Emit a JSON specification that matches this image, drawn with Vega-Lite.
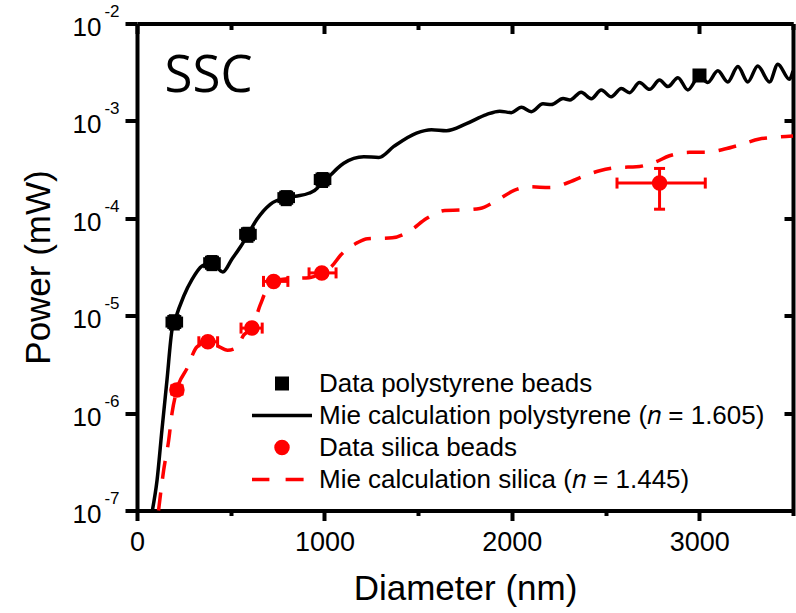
{
  "$schema": "https://vega.github.io/schema/vega-lite/v6.json",
  "width": 656,
  "height": 487,
  "autosize": {"type": "none"},
  "padding": {"left": 137, "top": 23.5, "right": 3.5, "bottom": 102.5},
  "background": "white",
  "config": {"view": {"stroke": null}, "axis": {"grid": false, "domainColor": "black", "tickColor": "black", "labelColor": "black", "titleColor": "black"}},
  "datasets": {
    "curveP": [
      {"d": 82, "p": 1e-7}, {"d": 107, "p": 2.042e-7}, {"d": 133, "p": 6.68e-7}, {"d": 160, "p": 2.188e-6},
      {"d": 187, "p": 7.18e-6}, {"d": 200, "p": 8.71e-6}, {"d": 249, "p": 1.585e-5}, {"d": 293, "p": 2.344e-5},
      {"d": 347, "p": 3.236e-5}, {"d": 400, "p": 3.49e-5}, {"d": 458, "p": 2.818e-5}, {"d": 506, "p": 3.8e-5},
      {"d": 553, "p": 5.13e-5}, {"d": 592, "p": 6.84e-5}, {"d": 640, "p": 9.77e-5}, {"d": 711, "p": 1.393e-4},
      {"d": 796, "p": 1.633e-4}, {"d": 856, "p": 1.694e-4}, {"d": 916, "p": 1.807e-4}, {"d": 962, "p": 2.042e-4},
      {"d": 990, "p": 2.512e-4}, {"d": 1030, "p": 2.754e-4}, {"d": 1069, "p": 3.26e-4}, {"d": 1103, "p": 3.673e-4},
      {"d": 1210, "p": 4.285e-4}, {"d": 1290, "p": 4.217e-4}, {"d": 1370, "p": 5.47e-4}, {"d": 1491, "p": 7.5e-4},
      {"d": 1571, "p": 8.13e-4}, {"d": 1651, "p": 7.94e-4}, {"d": 1758, "p": 9.38e-4}, {"d": 1864, "p": 1.161e-3},
      {"d": 1935, "p": 1.259e-3}, {"d": 1997, "p": 1.216e-3}, {"d": 2051, "p": 1.38e-3}, {"d": 2104, "p": 1.245e-3},
      {"d": 2166, "p": 1.496e-3}, {"d": 2210, "p": 1.472e-3}, {"d": 2273, "p": 1.698e-3}, {"d": 2310, "p": 1.641e-3},
      {"d": 2370, "p": 1.972e-3}, {"d": 2424, "p": 1.69e-3}, {"d": 2477, "p": 2.075e-3}, {"d": 2530, "p": 1.77e-3},
      {"d": 2584, "p": 2.148e-3}, {"d": 2628, "p": 1.95e-3}, {"d": 2681, "p": 2.472e-3}, {"d": 2735, "p": 2.109e-3},
      {"d": 2788, "p": 2.63e-3}, {"d": 2833, "p": 2.249e-3}, {"d": 2886, "p": 2.78e-3}, {"d": 2939, "p": 2.08e-3},
      {"d": 3001, "p": 2.884e-3}, {"d": 3045, "p": 2.483e-3}, {"d": 3099, "p": 3.273e-3}, {"d": 3152, "p": 2.512e-3},
      {"d": 3206, "p": 3.614e-3}, {"d": 3259, "p": 2.512e-3}, {"d": 3312, "p": 3.664e-3}, {"d": 3375, "p": 2.512e-3},
      {"d": 3419, "p": 3.819e-3}, {"d": 3481, "p": 2.673e-3}, {"d": 3500, "p": 3.258e-3}
    ],
    "curveS": [
      {"d": 115, "p": 1e-7}, {"d": 142, "p": 2.57e-7}, {"d": 169, "p": 5.248e-7}, {"d": 187, "p": 1e-6},
      {"d": 213, "p": 1.738e-6}, {"d": 267, "p": 2.884e-6}, {"d": 320, "p": 4.786e-6}, {"d": 382, "p": 5.433e-6},
      {"d": 430, "p": 4.898e-6}, {"d": 483, "p": 4.416e-6}, {"d": 530, "p": 4.677e-6}, {"d": 569, "p": 6.31e-6},
      {"d": 613, "p": 7.464e-6}, {"d": 658, "p": 1.297e-5}, {"d": 700, "p": 1.995e-5}, {"d": 729, "p": 2.259e-5},
      {"d": 811, "p": 2.399e-5}, {"d": 918, "p": 2.455e-5}, {"d": 986, "p": 2.754e-5}, {"d": 1040, "p": 3.236e-5},
      {"d": 1087, "p": 4.198e-5}, {"d": 1176, "p": 5.623e-5}, {"d": 1230, "p": 6.166e-5}, {"d": 1362, "p": 6.31e-5},
      {"d": 1455, "p": 7.413e-5}, {"d": 1544, "p": 9.93e-5}, {"d": 1642, "p": 1.202e-4}, {"d": 1731, "p": 1.216e-4},
      {"d": 1829, "p": 1.259e-4}, {"d": 1917, "p": 1.514e-4}, {"d": 2015, "p": 1.945e-4}, {"d": 2095, "p": 2.104e-4},
      {"d": 2202, "p": 2.07e-4}, {"d": 2291, "p": 2.291e-4}, {"d": 2388, "p": 2.729e-4}, {"d": 2468, "p": 3.076e-4},
      {"d": 2575, "p": 3.334e-4}, {"d": 2664, "p": 3.373e-4}, {"d": 2761, "p": 3.75e-4}, {"d": 2841, "p": 4.385e-4},
      {"d": 2948, "p": 4.753e-4}, {"d": 3028, "p": 4.753e-4}, {"d": 3135, "p": 5.14e-4}, {"d": 3215, "p": 5.662e-4},
      {"d": 3321, "p": 6.516e-4}, {"d": 3401, "p": 6.792e-4}, {"d": 3500, "p": 6.998e-4}
    ],
    "pts": [
      {"series": "Data polystyrene beads", "d": 199, "p": 8.6e-6, "dlo": 160, "dhi": 238, "plo": 7.3e-6, "phi": 1.0e-5},
      {"series": "Data polystyrene beads", "d": 400, "p": 3.5e-5, "dlo": 361, "dhi": 439, "plo": 2.97e-5, "phi": 4.05e-5},
      {"series": "Data polystyrene beads", "d": 592, "p": 6.85e-5, "dlo": 553, "dhi": 631, "plo": 5.8e-5, "phi": 7.9e-5},
      {"series": "Data polystyrene beads", "d": 796, "p": 1.63e-4, "dlo": 757, "dhi": 835, "plo": 1.38e-4, "phi": 1.88e-4},
      {"series": "Data polystyrene beads", "d": 990, "p": 2.5e-4, "dlo": 951, "dhi": 1029, "plo": 2.12e-4, "phi": 2.88e-4},
      {"series": "Data polystyrene beads", "d": 3001, "p": 2.92e-3, "dlo": 2975, "dhi": 3027, "plo": 2.7e-3, "phi": 3.15e-3},
      {"series": "Data silica beads", "d": 213, "p": 1.73e-6, "dlo": 185, "dhi": 241, "plo": 1.55e-6, "phi": 1.93e-6},
      {"series": "Data silica beads", "d": 378, "p": 5.4e-6, "dlo": 330, "dhi": 430, "plo": 4.95e-6, "phi": 5.9e-6},
      {"series": "Data silica beads", "d": 613, "p": 7.46e-6, "dlo": 555, "dhi": 668, "plo": 6.9e-6, "phi": 8.1e-6},
      {"series": "Data silica beads", "d": 729, "p": 2.25e-5, "dlo": 675, "dhi": 805, "plo": 2.07e-5, "phi": 2.45e-5},
      {"series": "Data silica beads", "d": 986, "p": 2.75e-5, "dlo": 918, "dhi": 1062, "plo": 2.55e-5, "phi": 2.97e-5},
      {"series": "Data silica beads", "d": 2788, "p": 2.3e-4, "dlo": 2561, "dhi": 3032, "plo": 1.24e-4, "phi": 3.25e-4}
    ]
  },
  "resolve": {"axis": {"x": "independent", "y": "independent"}},
  "layer": [
    {
      "data": {"name": "curveP"},
      "mark": {"type": "line", "color": "black", "strokeWidth": 3.5, "interpolate": "monotone"},
      "encoding": {
        "x": {"field": "d", "type": "quantitative", "scale": {"domain": [0, 3500], "nice": false, "zero": false},
          "axis": {"orient": "bottom", "values": [0, 1000, 2000, 3000], "format": "d", "tickSize": 10, "tickWidth": 4, "domainWidth": 4, "labelFont": "Liberation Sans", "labelFontSize": 27, "labelPadding": 9, "labelFlush": false, "labelOverlap": false, "title": "Diameter (nm)", "titleFont": "Liberation Sans", "titleFontSize": 35, "titleFontWeight": "normal", "titlePadding": 16}},
        "y": {"field": "p", "type": "quantitative", "scale": {"type": "log", "domain": [1e-7, 1e-2], "nice": false},
          "axis": {"orient": "left", "values": [1e-7, 1e-6, 1e-5, 1e-4, 1e-3, 1e-2], "labelExpr": "'10'", "tickSize": 12, "tickWidth": 4, "domainWidth": 4, "labelFont": "Liberation Sans", "labelFontSize": 26, "labelPadding": 24, "labelOffset": 4, "labelFlush": false, "labelOverlap": false, "title": "Power (mW)", "titleFont": "Liberation Sans", "titleFontSize": 35, "titleFontWeight": "normal", "titlePadding": 16}}
      }
    },
    {
      "data": {"name": "curveS"},
      "mark": {"type": "line", "color": "#ff0000", "strokeWidth": 3.5, "strokeDash": [18, 14], "interpolate": "monotone"},
      "encoding": {
        "x": {"field": "d", "type": "quantitative", "scale": {"domain": [0, 3500], "nice": false, "zero": false},
          "axis": {"orient": "bottom", "values": [500, 1500, 2500, 3500], "labels": false, "domain": false, "tickSize": 5, "tickWidth": 4, "title": null}},
        "y": {"field": "p", "type": "quantitative", "scale": {"type": "log", "domain": [1e-7, 1e-2], "nice": false},
          "axis": {"orient": "left", "values": [1e-7, 1e-6, 1e-5, 1e-4, 1e-3, 1e-2], "labelExpr": "'-' + round(-log(datum.value)/LN10)", "ticks": false, "domain": false, "labelFont": "Liberation Sans", "labelFontSize": 17, "labelPadding": 18, "labelOffset": -12, "labelFlush": false, "labelOverlap": false, "title": null}}
      }
    },
    {
      "data": {"name": "pts"},
      "mark": {"type": "rule", "strokeWidth": 3},
      "encoding": {
        "x": {"field": "dlo", "type": "quantitative", "scale": {"domain": [0, 3500], "nice": false, "zero": false},
          "axis": {"orient": "top", "values": [0, 1000, 2000, 3000], "labels": false, "tickSize": -10, "tickWidth": 4, "domainWidth": 4, "title": null}},
        "x2": {"field": "dhi"},
        "y": {"field": "p", "type": "quantitative", "scale": {"type": "log", "domain": [1e-7, 1e-2], "nice": false},
          "axis": {"orient": "right", "values": [1e-7, 1e-6, 1e-5, 1e-4, 1e-3, 1e-2], "labels": false, "tickSize": -9, "tickWidth": 4, "domainWidth": 4, "title": null}},
        "stroke": {"field": "series", "type": "nominal", "legend": null,
          "scale": {"domain": ["Data silica beads", "Data polystyrene beads"], "range": ["#ff0000", "black"]}}
      }
    },
    {
      "data": {"name": "pts"},
      "mark": {"type": "rule", "strokeWidth": 3},
      "encoding": {
        "x": {"field": "d", "type": "quantitative", "scale": {"domain": [0, 3500], "nice": false, "zero": false},
          "axis": {"orient": "top", "values": [500, 1500, 2500, 3500], "labels": false, "domain": false, "tickSize": -6, "tickWidth": 4, "title": null}},
        "y": {"field": "plo", "type": "quantitative", "scale": {"type": "log", "domain": [1e-7, 1e-2], "nice": false}, "axis": null},
        "y2": {"field": "phi"},
        "stroke": {"field": "series", "type": "nominal", "legend": null}
      }
    },
    {
      "data": {"name": "pts"},
      "mark": {"type": "point", "shape": "M0,-1L0,1", "size": 121, "filled": false, "strokeWidth": 3, "opacity": 1},
      "encoding": {
        "x": {"field": "dlo", "type": "quantitative", "axis": null},
        "y": {"field": "p", "type": "quantitative", "axis": null},
        "stroke": {"field": "series", "type": "nominal", "legend": null}
      }
    },
    {
      "data": {"name": "pts"},
      "mark": {"type": "point", "shape": "M0,-1L0,1", "size": 121, "filled": false, "strokeWidth": 3, "opacity": 1},
      "encoding": {
        "x": {"field": "dhi", "type": "quantitative", "axis": null},
        "y": {"field": "p", "type": "quantitative", "axis": null},
        "stroke": {"field": "series", "type": "nominal", "legend": null}
      }
    },
    {
      "data": {"name": "pts"},
      "mark": {"type": "point", "shape": "M-1,0L1,0", "size": 121, "filled": false, "strokeWidth": 3, "opacity": 1},
      "encoding": {
        "x": {"field": "d", "type": "quantitative", "axis": null},
        "y": {"field": "plo", "type": "quantitative", "axis": null},
        "stroke": {"field": "series", "type": "nominal", "legend": null}
      }
    },
    {
      "data": {"name": "pts"},
      "mark": {"type": "point", "shape": "M-1,0L1,0", "size": 121, "filled": false, "strokeWidth": 3, "opacity": 1},
      "encoding": {
        "x": {"field": "d", "type": "quantitative", "axis": null},
        "y": {"field": "phi", "type": "quantitative", "axis": null},
        "stroke": {"field": "series", "type": "nominal", "legend": null}
      }
    },
    {
      "data": {"name": "pts"},
      "mark": {"type": "point", "filled": false, "size": 3600, "opacity": 1, "strokeWidth": 3.5},
      "encoding": {
        "x": {"field": "d", "type": "quantitative", "axis": null},
        "y": {"field": "p", "type": "quantitative", "axis": null},
        "color": {"field": "series", "type": "nominal",
          "scale": {"domain": ["Data polystyrene beads", "Mie calculation polystyrene (\ud835\udc5b = 1.605)", "Data silica beads", "Mie calculation silica (\ud835\udc5b = 1.445)"], "range": ["black", "black", "#ff0000", "#ff0000"]},
          "legend": {"title": null, "orient": "none", "legendX": 113, "legendY": 344, "direction": "vertical", "padding": 0, "rowPadding": 0, "symbolSize": 3600, "symbolStrokeWidth": 3.5, "clipHeight": 32, "labelFont": "Liberation Sans", "labelFontSize": 26, "labelColor": "black", "labelLimit": 1000, "labelOffset": 5}},
        "fill": {"field": "series", "type": "nominal",
          "scale": {"domain": ["Data polystyrene beads", "Mie calculation polystyrene (\ud835\udc5b = 1.605)", "Data silica beads", "Mie calculation silica (\ud835\udc5b = 1.445)"], "range": ["black", "black", "#ff0000", "#ff0000"]},
          "legend": {"title": null, "orient": "none", "legendX": 113, "legendY": 344, "direction": "vertical", "padding": 0, "rowPadding": 0, "symbolSize": 3600, "symbolStrokeWidth": 3.5, "clipHeight": 32, "labelFont": "Liberation Sans", "labelFontSize": 26, "labelColor": "black", "labelLimit": 1000, "labelOffset": 5}},
        "shape": {"field": "series", "type": "nominal",
          "scale": {"domain": ["Data polystyrene beads", "Mie calculation polystyrene (\ud835\udc5b = 1.605)", "Data silica beads", "Mie calculation silica (\ud835\udc5b = 1.445)"],
            "range": ["M-0.175,-0.175L0.175,-0.175L0.175,0.175L-0.175,0.175Z", "M-1,0L1,0", "M-0.2,0A0.2,0.2,0,1,0,0.2,0A0.2,0.2,0,1,0,-0.2,0Z", "M-1,0L-0.42,0M0.12,0L0.72,0"]},
          "legend": {"title": null, "orient": "none", "legendX": 113, "legendY": 344, "direction": "vertical", "padding": 0, "rowPadding": 0, "symbolSize": 3600, "symbolStrokeWidth": 3.5, "clipHeight": 32, "labelFont": "Liberation Sans", "labelFontSize": 26, "labelColor": "black", "labelLimit": 1000, "labelOffset": 5}}
      }
    },
    {
      "data": {"values": [{}]},
      "mark": {"type": "text", "text": "SSC", "align": "left", "baseline": "alphabetic", "font": "Open Sans", "fontSize": 51, "color": "black"},
      "encoding": {
        "x": {"datum": 147, "type": "quantitative", "axis": null},
        "y": {"datum": 0.002, "type": "quantitative", "axis": null}
      }
    }
  ]
}
